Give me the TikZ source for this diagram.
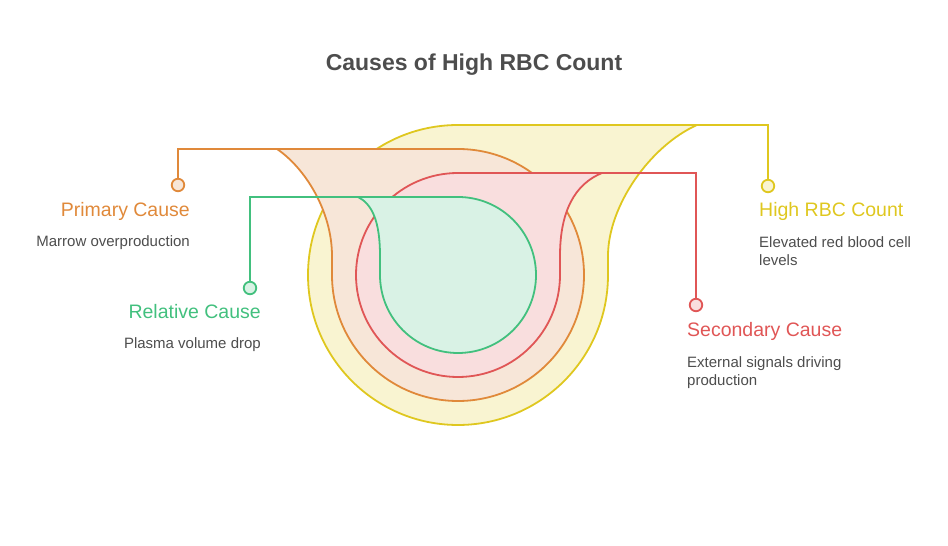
\documentclass[tikz,border=0pt]{standalone}
\usepackage{fontspec}
\setmainfont{Liberation Sans}
\usetikzlibrary{positioning}

\definecolor{ylwline}{HTML}{DFC71F}
\definecolor{ylwfill}{HTML}{F9F4D1}
\definecolor{orgline}{HTML}{E0893A}
\definecolor{orgfill}{HTML}{F7E6D8}
\definecolor{redline}{HTML}{E05656}
\definecolor{redfill}{HTML}{F9DEDE}
\definecolor{grnline}{HTML}{42C07E}
\definecolor{grnfill}{HTML}{D9F2E5}
\definecolor{txtgray}{HTML}{4D4D4D}

\tikzset{
  ring/.style={line width=1.8pt, line join=round},
  lead/.style={line width=1.8pt},
  dot/.style={circle, draw, line width=1.8pt, minimum size=12.5pt, inner sep=0pt},
  head/.style={font=\fontsize{19.5}{23}\selectfont, inner sep=0pt},
  desc/.style={font=\fontsize{15}{18}\selectfont, text=txtgray, align=left, inner sep=0pt},
}

\begin{document}
\begin{tikzpicture}[x=1pt, y=1pt]
\useasboundingbox (0,0) rectangle (948,546);

\node[font=\fontsize{23}{27}\selectfont\bfseries, text=txtgray, anchor=base] (title) at (474,475) {Causes of High RBC Count};

% nested drops, outer to inner
\draw[ring, draw=ylwline, fill=ylwfill] (697,421) .. controls (650,400) and (608,340) .. (608,290)
    -- (608,271) arc[start angle=0, end angle=-270, radius=150] -- cycle;
\draw[ring, draw=orgline, fill=orgfill] (277,397) -- (458,397)
    arc[start angle=90, end angle=-180, radius=126] -- (332,290)
    .. controls (332,335) and (305,378) .. (277,397);
\draw[ring, draw=redline, fill=redfill] (602,373) -- (458,373)
    arc[start angle=90, end angle=360, radius=102] -- (560,290)
    .. controls (560,335) and (575,362) .. (602,373);
\draw[ring, draw=grnline, fill=grnfill] (358,349) -- (458,349)
    arc[start angle=90, end angle=-180, radius=78] -- (380,290)
    .. controls (380,325) and (372,342) .. (358,349);

% leader ends
\coordinate (hend) at (697,421);
\coordinate (pend) at (277,397);
\coordinate (send) at (602,373);
\coordinate (rend) at (358,349);

% dots
\node[dot, draw=ylwline, fill=ylwfill] (hdot) at (768,360) {};
\node[dot, draw=orgline, fill=orgfill] (pdot) at (178,361) {};
\node[dot, draw=redline, fill=redfill] (sdot) at (696,241) {};
\node[dot, draw=grnline, fill=grnfill] (rdot) at (250,258) {};

\draw[lead, ylwline] (hdot) |- (hend);
\draw[lead, orgline] (pdot) |- (pend);
\draw[lead, redline] (sdot) |- (send);
\draw[lead, grnline] (rdot) |- (rend);

% labels
\node[head, text=orgline, anchor=base east] (prim) at (190,329) {Primary Cause};
\node[desc, anchor=base east] (primd) at (190,299) {Marrow overproduction};
\node[head, text=grnline, anchor=base east] (rel) at (261,227) {Relative Cause};
\node[desc, anchor=base east] (reld) at (261,197) {Plasma volume drop};
\node[head, text=ylwline, anchor=base west] (high) at (759,329) {High RBC Count};
\node[desc, anchor=base west] (highd) at (759,280) {Elevated red blood cell\\levels};
\node[head, text=redline, anchor=base west] (sec) at (687,209) {Secondary Cause};
\node[desc, anchor=base west] (secd) at (687,160) {External signals driving\\production};

\end{tikzpicture}
\end{document}
